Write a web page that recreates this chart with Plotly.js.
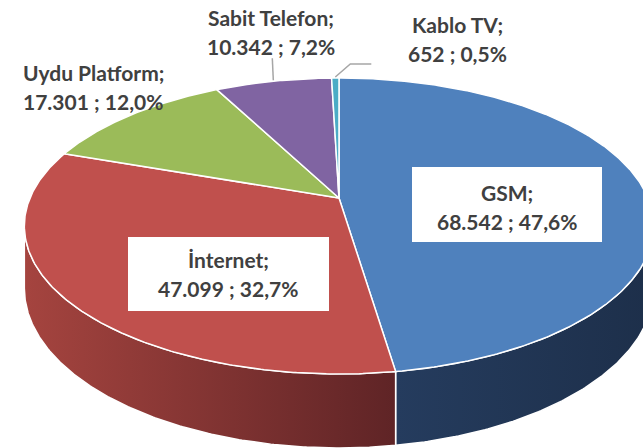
<!DOCTYPE html>
<html>
<head>
<meta charset="utf-8">
<script src="https://cdn.plot.ly/plotly-3.0.1.min.js"></script>
<style>html,body{margin:0;padding:0;background:#fff}#chart{width:643px;height:448px}</style>
</head>
<body>
<div id="chart"></div>
<script>
// ---- data ----
const categories = ["GSM", "İnternet", "Uydu Platform", "Sabit Telefon", "Kablo TV"];
const values = [68542, 47099, 17301, 10342, 652];
const valueLabels = ["68.542", "47.099", "17.301", "10.342", "652"];
const percentLabels = ["47,6%", "32,7%", "12,0%", "7,2%", "0,5%"];
const topColors = ["#4F81BD", "#C0504D", "#9BBB59", "#8064A2", "#4BACC6"];
const wallColors = [["#253C5E", "#1D2F4A"], ["#A5443F", "#5F2426"], ["#789245", "#4F602C"], ["#634D7E", "#3F3050"], ["#3A869A", "#255865"]];

// ---- geometry (pixel-like axis units) ----
const CX = 339, CY = 198, A = 309, B = 142.7, K = 0.189, H = 60;
function proj(deg, drop) {
  const t = deg * Math.PI / 180;
  const u = Math.sin(t), v = Math.cos(t), w = 1 + K * v;
  return [CX + A * u / w, CY - B * v / w + (drop || 0) / w];
}
function arc(a, b, drop) {
  const pts = [];
  const n = Math.max(2, Math.ceil((b - a) / 0.5));
  for (let i = 0; i <= n; i++) pts.push(proj(a + (b - a) * i / n, drop));
  return pts;
}

const total = values.reduce((s, x) => s + x, 0);
const starts = [], ends = [];
let acc = 0;
values.forEach(v => { starts.push(acc / total * 360); acc += v; ends.push(acc / total * 360); });

const sil1 = Math.acos(-K) * 180 / Math.PI, sil2 = 360 - sil1;
const traces = [];

// side walls
values.forEach((v, i) => {
  const a = Math.max(starts[i], sil1), b = Math.min(ends[i], sil2);
  if (b <= a) return;
  const top = arc(a, b, 0), bot = arc(a, b, H).reverse();
  const pts = top.concat(bot); pts.push(top[0]);
  traces.push({
    type: "scatter", mode: "lines", fill: "toself",
    x: pts.map(p => p[0]), y: pts.map(p => p[1]),
    line: {color: "#FFFFFF", width: 1.5},
    fillcolor: wallColors[i][0],
    fillgradient: {type: "horizontal", colorscale: [[0, wallColors[i][0]], [1, wallColors[i][1]]]},
    hoverinfo: "skip", showlegend: false
  });
});

// top faces
values.forEach((v, i) => {
  const pts = [[CX, CY]].concat(arc(starts[i], ends[i], 0)); pts.push([CX, CY]);
  traces.push({
    type: "scatter", mode: "lines", fill: "toself",
    x: pts.map(p => p[0]), y: pts.map(p => p[1]),
    line: {color: "#FFFFFF", width: 1.5},
    fillcolor: topColors[i],
    hoverinfo: "skip", showlegend: false
  });
});

// leader lines for Sabit Telefon and Kablo TV
const mid3 = (starts[3] + ends[3]) / 2, p3 = proj(mid3, 0);
traces.push({type: "scatter", mode: "lines", x: [p3[0], p3[0] - 1], y: [p3[1] - 1, p3[1] - 23],
  line: {color: "#A6A6A6", width: 1.5}, hoverinfo: "skip", showlegend: false});
const mid4 = (starts[4] + ends[4]) / 2, p4 = proj(mid4, 0);
traces.push({type: "scatter", mode: "lines", x: [p4[0], p4[0] + 15, p4[0] + 36], y: [p4[1] - 1, p4[1] - 14, p4[1] - 14],
  line: {color: "#A6A6A6", width: 1.5}, hoverinfo: "skip", showlegend: false});

// ---- labels ----
const labelPos = [[507, 192], [228, 259], [93, 72], [271, 17], [457, 24]];
const lineGap = 29;
const font = {family: "Lato, 'Open Sans', sans-serif", size: 21, color: "#404040", weight: 700};
const annotations = [];
categories.forEach((c, i) => {
  const [x, y] = labelPos[i];
  annotations.push({x: x, y: y, xref: "x", yref: "y", text: c + ";", showarrow: false, font: font, xanchor: "center", yanchor: "middle"});
  annotations.push({x: x, y: y + lineGap, xref: "x", yref: "y", text: valueLabels[i] + " ; " + percentLabels[i], showarrow: false, font: font, xanchor: "center", yanchor: "middle"});
});
const shapes = [
  {type: "rect", xref: "x", yref: "y", x0: 412, x1: 602, y0: 167, y1: 242, fillcolor: "#FFFFFF", line: {width: 0}, layer: "above"},
  {type: "rect", xref: "x", yref: "y", x0: 128, x1: 329, y0: 237, y1: 311, fillcolor: "#FFFFFF", line: {width: 0}, layer: "above"}
];

const layout = {
  width: 643, height: 448,
  margin: {l: 0, r: 0, t: 0, b: 0},
  paper_bgcolor: "#FFFFFF", plot_bgcolor: "#FFFFFF",
  xaxis: {range: [0, 643], visible: false, fixedrange: true},
  yaxis: {range: [448, 0], visible: false, fixedrange: true},
  showlegend: false, hovermode: false,
  annotations: annotations, shapes: shapes
};
Plotly.newPlot("chart", traces, layout, {staticPlot: true, displayModeBar: false});
</script>
</body>
</html>
